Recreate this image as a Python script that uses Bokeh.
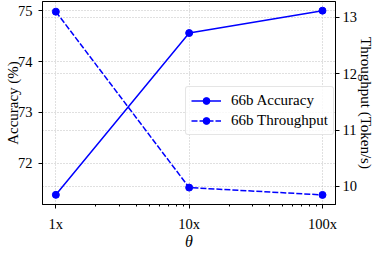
from bokeh.plotting import figure
from bokeh.models import Range1d, LinearAxis, FixedTicker, Grid, Legend, LegendItem
from bokeh.embed import file_html
from bokeh.resources import INLINE

theta = [1, 10, 100]
theta_labels = ["1x", "10x", "100x"]
accuracy = [71.38, 74.56, 75.0]
throughput = [13.1, 9.98, 9.85]

FONT = "Liberation Serif"

p = figure(width=374, height=244, x_axis_type="log",
           x_range=Range1d(0.794, 125.2), y_range=Range1d(71.19, 75.18),
           output_backend="svg", toolbar_location=None,
           min_border_left=42, min_border_top=1, min_border_right=39, min_border_bottom=40)
p.frame_width = 293
p.frame_height = 203
p.extra_y_ranges = {"tp": Range1d(9.68, 13.28)}

p.outline_line_color = "black"
p.outline_line_alpha = 1
p.outline_line_width = 1

# x axis
p.xaxis.ticker = FixedTicker(ticks=theta,
                             minor_ticks=[2, 3, 4, 5, 6, 7, 8, 9, 20, 30, 40, 50, 60, 70, 80, 90])
p.xaxis.major_label_overrides = {t: l for t, l in zip(theta, theta_labels)}
p.xaxis.axis_label = "θ"

# left axis
p.yaxis.ticker = FixedTicker(ticks=[72, 73, 74, 75])
p.yaxis.axis_label = "Accuracy (%)"

right = LinearAxis(y_range_name="tp", ticker=FixedTicker(ticks=[10, 11, 12, 13]),
                   axis_label="Throughput (Token/s)")
p.add_layout(right, "right")

for ax in [p.xaxis[0], p.yaxis[0], right]:
    ax.major_label_text_font = FONT
    ax.major_label_text_font_size = "14.5px"
    ax.major_label_text_color = "black"
    ax.axis_label_text_font = FONT
    ax.axis_label_text_font_size = "15px"
    ax.axis_label_text_font_style = "normal"
    ax.axis_label_text_color = "black"
    ax.axis_line_color = "black"
    ax.major_tick_line_color = "black"
    ax.major_tick_out = 4
    ax.major_tick_in = 0
    ax.minor_tick_line_color = "black"
    ax.minor_tick_out = 2
    ax.minor_tick_in = 0
p.yaxis.minor_tick_line_color = None
right.minor_tick_line_color = None
p.yaxis.major_label_standoff = 6
p.yaxis.axis_label_standoff = -6
right.major_label_standoff = 3
right.axis_label_standoff = -2
p.xaxis.major_label_standoff = 7
p.xaxis.axis_label_text_font_size = "16px"
p.xaxis.axis_label_text_font_style = "italic"
p.xaxis.axis_label_standoff = -2

grid_kw = dict(grid_line_color="#b0b0b0", grid_line_dash="1 2", grid_line_width=0.8)
p.xgrid.ticker = FixedTicker(ticks=theta)
p.ygrid.ticker = FixedTicker(ticks=[72, 73, 74, 75])
for g in [p.xgrid[0], p.ygrid[0]]:
    for k, v in grid_kw.items():
        setattr(g, k, v)
g2 = Grid(dimension=1, ticker=FixedTicker(ticks=[10, 11, 12, 13]), y_range_name="tp", **grid_kw)
p.add_layout(g2)

blue = "#0000ff"
l1 = p.line(theta, accuracy, line_color=blue, line_width=1.5)
s1 = p.scatter(theta, accuracy, size=7, fill_color=blue, line_color=blue)
l2 = p.line(theta, throughput, line_color=blue, line_width=1.5, line_dash="6 2", y_range_name="tp")
s2 = p.scatter(theta, throughput, size=7, fill_color=blue, line_color=blue, y_range_name="tp")

legend = Legend(items=[LegendItem(label="66b Accuracy", renderers=[l1, s1]),
                       LegendItem(label="66b Throughput", renderers=[l2, s2])],
                location=(143, 69))
legend.label_text_font = FONT
legend.label_text_font_size = "15px"
legend.label_text_color = "black"
legend.glyph_width = 30
legend.glyph_height = 17
legend.label_standoff = 10
legend.spacing = 3
legend.padding = 5
legend.margin = 0
legend.border_line_color = "#cccccc"
legend.border_radius = 3
legend.background_fill_alpha = 0.8
p.add_layout(legend, "center")

open("out.html", "w").write(file_html(p, INLINE))
